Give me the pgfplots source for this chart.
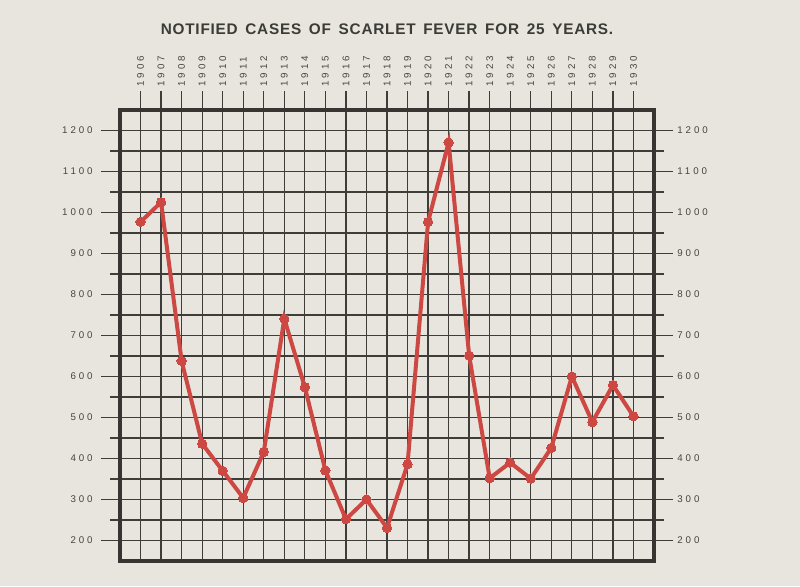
\documentclass[border=0pt]{standalone}
\usepackage{pgfplots}
\pgfplotsset{compat=1.18}
\usepackage{fontspec}
\setmainfont{Liberation Sans}
\newfontfamily\titlefont[LetterSpace=5]{Liberation Sans}
\newfontfamily\tickfont[LetterSpace=30]{Liberation Sans}
\definecolor{bg}{RGB}{231,229,222}
\definecolor{gridc}{RGB}{62,61,58}
\definecolor{framec}{RGB}{55,53,50}
\definecolor{redl}{RGB}{205,72,66}
\definecolor{txt}{RGB}{70,69,66}
\pgfplotstableread{
year cases
1906 977
1907 1025
1908 638
1909 436
1910 370
1911 304
1912 416
1913 741
1914 574
1915 371
1916 252
1917 300
1918 231
1919 386
1920 977
1921 1171
1922 651
1923 352
1924 390
1925 351
1926 426
1927 600
1928 489
1929 579
1930 503
}\datatable
\begin{document}
\begin{tikzpicture}
\useasboundingbox (0,0) rectangle (600pt,439.5pt);
\fill[bg] (0,0) rectangle (600pt,439.5pt);
\node[font=\titlefont\bfseries\fontsize{11.5}{12}\selectfont, text=txt!85!black, inner sep=0pt] at (290.25pt,417.75pt)
  {NOTIFIED\hspace{0.5em}CASES\hspace{0.5em}OF\hspace{0.5em}SCARLET\hspace{0.5em}FEVER\hspace{0.5em}FOR\hspace{0.5em}25\hspace{0.5em}YEARS.};
\begin{axis}[
  at={(90pt,18.75pt)}, anchor=south west,
  scale only axis, width=400.5pt, height=338.25pt,
  xmin=1905, xmax=1931, ymin=150, ymax=1250,
  xtick={1906,...,1930},
  xticklabel pos=upper, xtick pos=upper,
  xticklabel style={rotate=90, anchor=west, font=\tickfont\fontsize{7.3}{8}\selectfont, text=txt},
  ytick={200,300,...,1200},
  minor ytick={250,350,...,1150},
  ytick pos=both, yticklabel pos=left,
  yticklabel style={font=\tickfont\fontsize{7.3}{8}\selectfont, text=txt, xshift=-3pt},
  /pgf/number format/assume math mode=true,
  /pgf/number format/1000 sep={},
  xticklabel={\pgfmathprintnumber[precision=0,1000 sep={}]{\tick}},
  tick align=outside,
  major tick length=14pt, minor tick length=7.5pt,
  tick style={gridc, line width=0.95pt},
  minor tick style={gridc, line width=0.95pt},
  grid=both,
  xmajorgrids=true, ymajorgrids=true, yminorgrids=true,
  major grid style={gridc, line width=0.95pt},
  minor grid style={gridc, line width=0.95pt},
  axis line style={framec, line width=3pt},
  clip=false,
]
\addplot[redl, line width=3pt, mark=*, mark size=3.5pt, mark options={fill=redl, draw=redl, line width=0pt}] table[x=year, y=cases] {\datatable};
\end{axis}
\begin{axis}[
  at={(90pt,18.75pt)}, anchor=south west,
  scale only axis, width=400.5pt, height=338.25pt,
  xmin=1905, xmax=1931, ymin=150, ymax=1250,
  hide x axis,
  axis y line*=right,
  axis line style={draw=none},
  ytick={200,300,...,1200},
  yticklabel pos=right,
  major tick length=0pt,
  tick align=outside,
  yticklabel style={font=\tickfont\fontsize{7.3}{8}\selectfont, text=txt, xshift=14pt},
  /pgf/number format/assume math mode=true,
  /pgf/number format/1000 sep={},
]
\addplot[draw=none] coordinates {(1906,200)};
\end{axis}
\end{tikzpicture}
\end{document}
